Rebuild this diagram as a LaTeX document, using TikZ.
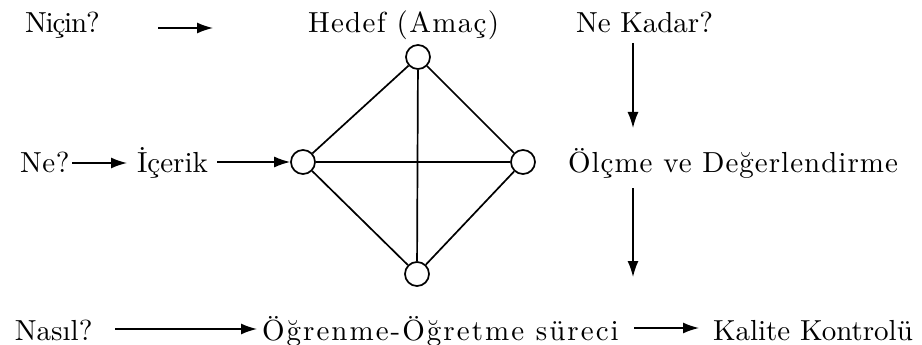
\documentclass[tikz,border=0pt]{standalone}
\usepackage{fontspec}
\setmainfont{lmroman10-regular.otf}
\usetikzlibrary{arrows.meta,calc}
\newcommand{\spc}[1]{\addfontfeature{LetterSpace=#1}}
\begin{document}
\begin{tikzpicture}[x=1pt,y=-1pt,
  lbl/.style={anchor=base west,inner sep=0pt,outer sep=0pt,font=\fontsize{29}{34}\selectfont},
  vtx/.style={circle,draw,line width=1.7pt,minimum size=24pt,inner sep=0pt,fill=white},
  edge/.style={line width=1.7pt},
  arr/.style={line width=1.5pt,-{Latex[length=16pt,width=11pt]}}]
\useasboundingbox (0,0) rectangle (922,345);
% labels
\node[lbl] (nicin) at (25,33) {\spc{-4}Niçin?};
\node[lbl] (hedef) at (308,33) {\spc{4.5}Hedef (Amaç)};
\node[lbl] (nekadar) at (576,33) {Ne Kadar?};
\node[lbl] (ne) at (20,172) {\spc{2}Ne?};
\node[lbl] (icerik) at (137,172) {İçerik};
\node[lbl] (olcme) at (568,172) {\spc{3.5}Ölçme ve Değerlendirme};
\node[lbl] (nasil) at (15,340) {Nasıl?};
\node[lbl] (ogrenme) at (262,340) {\spc{7}Öğrenme-Öğretme süreci};
\node[lbl] (kalite) at (713,340) {Kalite Kontrolü};
% diamond
\node[vtx] (ct) at (418,57) {};
\node[vtx] (cl) at (303,162) {};
\node[vtx] (cr) at (523,162) {};
\node[vtx] (cb) at (417,274) {};
\draw[edge] (ct) -- (cl);
\draw[edge] (ct) -- (cr);
\draw[edge] (cl) -- (cb);
\draw[edge] (cr) -- (cb);
\draw[edge] (ct) -- (cb);
\draw[edge] (cl) -- (cr);
% arrows
\draw[arr] ($(nicin.base west)+(133,-5)$) -- ($(hedef.base west)+(-95,-5)$);
\draw[arr] ($(ne.base west)+(52,-9)$) -- ($(icerik.base west)+(-10,-9)$);
\draw[arr] ($(icerik.base west)+(80,-10)$) -- (cl.west);
\draw[arr] ($(nekadar.base west)+(57,10)$) -- ($(olcme.base west)+(65,-44)$);
\draw[arr] ($(olcme.base west)+(65,16)$) -- ($(ogrenme.base west)+(371,-63)$);
\draw[arr] ($(nasil.base west)+(100,-11)$) -- ($(ogrenme.base west)+(-5,-11)$);
\draw[arr] ($(ogrenme.base west)+(372,-12)$) -- ($(kalite.base west)+(-14,-12)$);
\end{tikzpicture}
\end{document}
